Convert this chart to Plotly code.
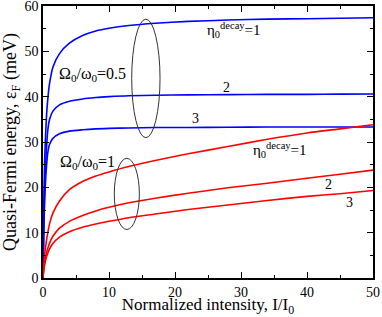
import plotly.graph_objects as go

# Normalized intensity I/I0 (shared x grid)
intensity = [0, 0.1, 0.25, 0.5, 0.76, 1.0, 1.5, 2.5, 4, 6, 8, 10, 13, 17, 22, 28, 34, 40, 45, 50]

# Omega0/omega0 = 0.5 (blue)
blue_eta1 = [0, 14, 26, 35, 40, 43, 46.5, 49.5, 51.8, 53.5, 54.5, 55.1, 55.7, 56.2, 56.6, 56.9, 57.1, 57.2, 57.3, 57.4]
blue_eta2 = [0, 10, 20, 28, 33, 35, 36.8, 38.2, 39.0, 39.5, 39.8, 40.0, 40.2, 40.3, 40.4, 40.45, 40.5, 40.5, 40.55, 40.6]
blue_eta3 = [0, 9, 17, 24, 28, 29.5, 30.8, 31.8, 32.4, 32.7, 32.9, 33.0, 33.1, 33.2, 33.2, 33.25, 33.3, 33.3, 33.3, 33.3]

# Omega0/omega0 = 1 (red)
red_eta1 = [0, 2.5, 5, 8, 10.3, 12, 14.3, 17, 19.5, 21.3, 22.5, 23.4, 24.6, 25.9, 27.4, 29.0, 30.6, 32.0, 32.9, 33.8]
red_eta2 = [0, 1.8, 3.5, 5.3, 6.7, 7.7, 9.2, 11.0, 12.5, 13.8, 14.8, 15.6, 16.6, 17.6, 18.7, 19.9, 20.9, 22.0, 22.9, 23.8]
red_eta3 = [0, 1.5, 2.9, 4.5, 5.6, 6.4, 7.6, 9.0, 10.2, 11.2, 11.9, 12.5, 13.3, 14.1, 15.1, 16.1, 17.1, 18.0, 18.6, 19.3]

x_ticks = [0, 10, 20, 30, 40, 50]
y_ticks = [0, 10, 20, 30, 40, 50, 60]

FONT = "Liberation Serif, Times New Roman, Times, serif"

fig = go.Figure()
for ys, col in [(blue_eta1, "#0000ff"), (blue_eta2, "#0000ff"), (blue_eta3, "#0000ff"),
                (red_eta1, "#ff0000"), (red_eta2, "#ff0000"), (red_eta3, "#ff0000")]:
    fig.add_trace(go.Scatter(x=intensity, y=ys, mode="lines",
                             line=dict(color=col, width=1.6, shape="spline", smoothing=0.6),
                             showlegend=False, hoverinfo="skip"))

axis_common = dict(showline=True, linecolor="black", linewidth=1.5, mirror="ticks",
                   ticks="inside", ticklen=6, tickwidth=1, tickcolor="black",
                   showgrid=False, zeroline=False, automargin=False, ticklabeloverflow="allow",
                   tickfont=dict(family=FONT, size=14, color="black"),
                   minor=dict(ticks="inside", ticklen=3, tickwidth=1, tickcolor="black", dtick=5, showgrid=False))

fig.update_xaxes(range=[0, 50], tickvals=x_ticks, ticktext=[str(v) for v in x_ticks],
                 title=dict(text="Normalized intensity, I/I<sub>0</sub>", font=dict(family=FONT, size=17, color="black"), standoff=4),
                 **axis_common)
fig.update_yaxes(range=[0, 60], tickvals=y_ticks, ticktext=[str(v) for v in y_ticks],
                 title=dict(text="Quasi-Fermi energy, ε<sub>F</sub> (meV)", font=dict(family=FONT, size=18, color="black"), standoff=3),
                 **axis_common)

labels = [
    (7.5, 45.0, "Ω<sub>0</sub>/ω<sub>0</sub>=0.5", 16),
    (29.0, 54.8, "η<sub>0</sub><sup>decay</sup>=1", 15),
    (27.8, 42.1, "2", 14),
    (23.1, 35.1, "3", 14),
    (6.8, 25.4, "Ω<sub>0</sub>/ω<sub>0</sub>=1", 16),
    (35.9, 28.2, "η<sub>0</sub><sup>decay</sup>=1", 15),
    (43.3, 20.7, "2", 14),
    (46.4, 16.6, "3", 14),
]
for x, y, t, s in labels:
    fig.add_annotation(x=x, y=y, text=t, showarrow=False, font=dict(family=FONT, size=s, color="black"),
                       xanchor="center", yanchor="middle")

fig.add_shape(type="circle", xref="x", yref="y", x0=13.44, x1=17.73, y0=30.95, y1=57.1,
              line=dict(color="#333333", width=1))
fig.add_shape(type="circle", xref="x", yref="y", x0=10.8, x1=14.6, y0=10.7, y1=26.4,
              line=dict(color="#333333", width=1))

fig.update_layout(width=382, height=317, margin=dict(l=43, r=9, t=6, b=39),
                  plot_bgcolor="white", paper_bgcolor="white",
                  font=dict(family=FONT, color="black"))

fig.write_html("out.html", config={"displayModeBar": False},
               post_script="document.body.style.margin='0';document.body.style.overflow='hidden';")
